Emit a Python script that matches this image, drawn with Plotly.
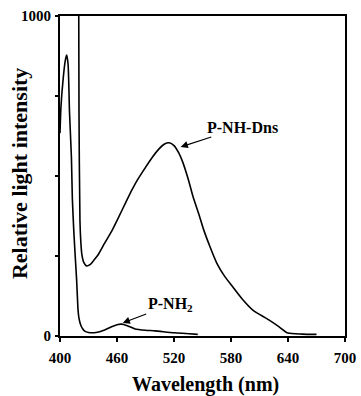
import plotly.graph_objects as go

# P-NH-Dns emission spectrum
dns_wl = [419.5, 420, 421, 422, 423, 425, 428, 432, 436, 440, 447, 455, 462, 469, 476, 482, 490, 497, 504, 510, 515, 520, 525, 529, 535, 540, 546, 551, 558, 565, 573, 582, 592, 603, 612, 621, 630, 640, 655, 670]
dns_val = [1300, 700, 360, 290, 255, 230, 219, 224, 238, 253, 290, 331, 373, 416, 458, 490, 527, 558, 584, 600, 604, 595, 572, 545, 490, 436, 382, 334, 278, 228, 188, 153, 115, 81, 64, 48, 30, 9, 6, 5]

# P-NH2 emission spectrum
nh2_wl = [400, 401, 403.5, 405.5, 407, 408.5, 410, 412, 413, 414.5, 416, 417.5, 419, 420, 422, 424, 426, 430, 438, 447, 455, 461, 465, 470, 475, 479, 490, 500, 520, 545]
nh2_val = [634, 716, 809, 860, 878, 850, 700, 560, 430, 330, 250, 175, 81, 55, 33, 22, 15, 11, 11, 19, 30, 36, 37, 33, 27, 22, 18, 16, 10, 5]

x_ticks = [400, 460, 520, 580, 640, 700]
y_ticks = [0, 1000]
y_minor_step = 250

FONT = "Liberation Serif, Times New Roman, serif"

fig = go.Figure()
fig.add_trace(go.Scatter(x=dns_wl, y=dns_val, mode="lines",
                         line=dict(color="black", width=1.6, shape="spline", smoothing=0.6)))
fig.add_trace(go.Scatter(x=nh2_wl, y=nh2_val, mode="lines",
                         line=dict(color="black", width=1.6, shape="spline", smoothing=0.6)))

# labels with arrows (text centred at ax/ay, arrow head at x/y)
fig.add_annotation(x=527, y=591, ax=592, ay=653, xref="x", yref="y", axref="x", ayref="y",
                   text="<b>P-NH-Dns</b>", showarrow=True, arrowhead=2, arrowsize=1.2,
                   arrowwidth=1.2, arrowcolor="black", standoff=0,
                   font=dict(family=FONT, size=16, color="black"))
fig.add_annotation(x=466, y=41, ax=516, ay=97, xref="x", yref="y", axref="x", ayref="y",
                   text="<b>P-NH<sub>2</sub></b>", showarrow=True, arrowhead=2, arrowsize=1.2,
                   arrowwidth=1.2, arrowcolor="black", standoff=0,
                   font=dict(family=FONT, size=16, color="black"))

# axis titles
fig.add_annotation(xref="paper", yref="paper", x=0, y=0.506, xshift=-41, text="<b>Relative light intensity</b>",
                   textangle=-90, showarrow=False, xanchor="center", yanchor="middle",
                   font=dict(family=FONT, size=22, color="black"))
fig.add_annotation(xref="paper", yref="paper", x=0.5, y=0, xshift=3, yshift=-48, text="<b>Wavelength (nm)</b>",
                   showarrow=False, xanchor="center", yanchor="middle",
                   font=dict(family=FONT, size=20, color="black"))

fig.update_layout(
    width=361, height=396,
    margin=dict(l=60, r=16, t=16, b=60, autoexpand=False),
    paper_bgcolor="white", plot_bgcolor="white",
    showlegend=False,
    font=dict(family=FONT, color="black"),
)
fig.update_xaxes(range=[400, 700], tickvals=x_ticks, showgrid=False, zeroline=False,
                 automargin=False,
                 showline=True, linecolor="black", linewidth=2, mirror=True,
                 ticks="outside", ticklen=4, tickwidth=1.5, tickcolor="black",
                 ticklabelstandoff=3,
                 tickfont=dict(family=FONT, size=15, color="black", weight=700))
fig.update_yaxes(range=[0, 1000], tickvals=y_ticks, showgrid=False, zeroline=False,
                 automargin=False,
                 showline=True, linecolor="black", linewidth=2, mirror=True,
                 ticks="outside", ticklen=3, tickwidth=1.5, tickcolor="black",
                 ticklabelstandoff=1,
                 minor=dict(dtick=y_minor_step, ticks="outside", ticklen=3, tickwidth=1.5,
                            tickcolor="black", showgrid=False),
                 tickfont=dict(family=FONT, size=15, color="black", weight=700))

# remove the default page margin so the figure fills the window exactly
fig.write_html("out.html",
               config={"displayModeBar": False},
               post_script="document.body.style.margin='0';document.body.style.overflow='hidden';")
